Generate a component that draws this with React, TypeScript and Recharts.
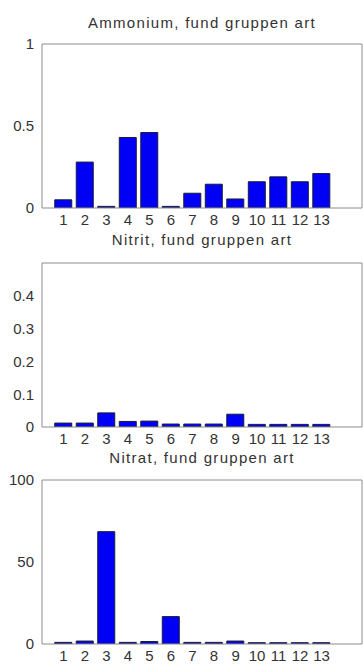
import React from "react";
import { BarChart, Bar, XAxis, YAxis } from "recharts";

// Sample groups shown on every panel
const groups = [1, 2, 3, 4, 5, 6, 7, 8, 9, 10, 11, 12, 13];

// Measured concentrations per group
const ammonium = [0.05, 0.28, 0.01, 0.43, 0.46, 0.01, 0.09, 0.145, 0.055, 0.16, 0.19, 0.16, 0.21];
const nitrit = [0.012, 0.012, 0.043, 0.017, 0.018, 0.009, 0.009, 0.009, 0.039, 0.008, 0.008, 0.008, 0.008];
const nitrat = [1, 1.8, 68.5, 1, 1.5, 16.7, 1, 1, 1.8, 0.8, 0.8, 0.8, 0.8];

// Panel titles and y-axis ticks
const titles = ["Ammonium, fund gruppen art", "Nitrit, fund gruppen art", "Nitrat, fund gruppen art"];
const ammoniumTicks = [0, 0.5, 1];
const nitritTicks = [0, 0.1, 0.2, 0.3, 0.4];
const nitratTicks = [0, 50, 100];

const X_MAX = 14.88;
const BOX = "#8c8c8c";
const TEXT = "#333";
const FONT = "Arial, 'Liberation Sans', sans-serif";

type PanelProps = {
  title: string;
  values: number[];
  yDomain: [number, number];
  yTicks: number[];
  top: number;
  titleOffset: number;
};

function Panel({ title, values, yDomain, yTicks, top, titleOffset }: PanelProps) {
  const rows = groups.map((g, i) => ({ x: g, v: values[i] }));
  const tickStyle = { fill: TEXT, fontSize: 15, fontFamily: FONT };
  return (
    <div style={{ position: "absolute", left: 0, top, width: 363, height: 224 }}>
      <div
        style={{
          position: "absolute",
          left: 42,
          width: 320,
          top: 30 - titleOffset - 9,
          height: 18,
          lineHeight: "18px",
          textAlign: "center",
          fontFamily: FONT,
          fontSize: 15,
          letterSpacing: 1.3,
          color: TEXT,
          whiteSpace: "nowrap",
        }}
      >
        {title}
      </div>
      <BarChart
        width={363}
        height={224}
        data={rows}
        margin={{ top: 30, right: 1, bottom: 0, left: 0 }}
        style={{ position: "absolute", left: 0, top: 0 }}
      >
        <XAxis
          xAxisId="b"
          dataKey="x"
          type="number"
          domain={[0, X_MAX]}
          ticks={groups}
          interval={0}
          height={30}
          tickLine={false}
          tickSize={4}
          tickMargin={2}
          axisLine={{ stroke: BOX }}
          tick={tickStyle}
          allowDataOverflow
        />
        <XAxis
          xAxisId="t"
          orientation="top"
          dataKey="x"
          type="number"
          domain={[0, X_MAX]}
          ticks={groups}
          interval={0}
          mirror
          tick={false}
          tickSize={3}
          tickLine={{ stroke: BOX }}
          axisLine={{ stroke: BOX }}
          allowDataOverflow
        />
        <YAxis
          yAxisId="l"
          domain={yDomain}
          ticks={yTicks}
          interval={0}
          width={42}
          tickLine={false}
          tickSize={4}
          tickMargin={4}
          axisLine={{ stroke: BOX }}
          tick={tickStyle}
          allowDataOverflow
        />
        <YAxis
          yAxisId="li"
          domain={yDomain}
          ticks={yTicks}
          interval={0}
          mirror
          tick={false}
          tickSize={3}
          tickLine={{ stroke: BOX }}
          axisLine={false}
          allowDataOverflow
        />
        <YAxis
          yAxisId="r"
          orientation="right"
          domain={yDomain}
          ticks={yTicks}
          interval={0}
          mirror
          tick={false}
          tickSize={3}
          tickLine={{ stroke: BOX }}
          axisLine={{ stroke: BOX }}
          allowDataOverflow
        />
        <Bar
          xAxisId="b"
          yAxisId="l"
          dataKey="v"
          fill="#0000f5"
          stroke="#1a1a3a"
          strokeWidth={1}
          barSize={17}
          isAnimationActive={false}
        />
      </BarChart>
    </div>
  );
}

export default function App() {
  return (
    <div
      style={{
        position: "absolute",
        left: 0,
        top: 0,
        width: 363,
        height: 671,
        overflow: "hidden",
        background: "#fff",
      }}
    >
      <Panel title={titles[0]} values={ammonium} yDomain={[0, 1]} yTicks={ammoniumTicks} top={14} titleOffset={21} />
      <Panel title={titles[1]} values={nitrit} yDomain={[0, 0.5]} yTicks={nitritTicks} top={233} titleOffset={23} />
      <Panel title={titles[2]} values={nitrat} yDomain={[0, 100]} yTicks={nitratTicks} top={450} titleOffset={22} />
    </div>
  );
}
